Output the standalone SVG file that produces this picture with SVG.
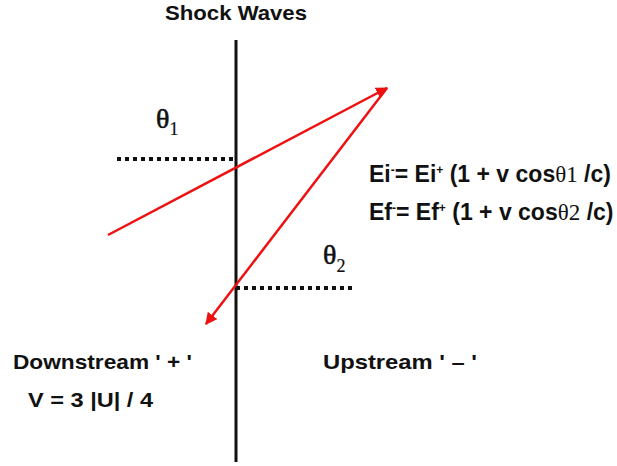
<svg xmlns="http://www.w3.org/2000/svg" width="617" height="466" viewBox="0 0 617 466">
<style>
.t{font-family:"Liberation Sans",Arial,sans-serif;font-weight:bold;font-size:21px;fill:#111}
.eq{font-size:23px}
.th{font-family:"Liberation Serif","Times New Roman",serif;font-size:28px;fill:#111;stroke:#111;stroke-width:0.6}
.sub{font-family:"Liberation Serif","Times New Roman",serif;font-size:18px;stroke-width:0.2}
.ray{stroke:#ee1111;stroke-width:2.5;fill:none}
.dot{stroke:#111;stroke-width:4;stroke-dasharray:4 4;fill:none}
</style>
<defs>
<marker id="ah" markerWidth="12" markerHeight="12" refX="9" refY="5" orient="auto" markerUnits="userSpaceOnUse" viewBox="0 0 10 10">
<path d="M0,0 L10,5 L0,10 Z" fill="#ee1111"/>
</marker>
</defs>
<rect width="617" height="466" fill="#fff"/>
<g id="shock">
<line x1="236" y1="40" x2="236" y2="462" stroke="#111" stroke-width="3"/>
<text class="t" x="165" y="20" textLength="142" lengthAdjust="spacingAndGlyphs">Shock Waves</text>
</g>
<g id="connectors">
<line class="dot" x1="117" y1="159" x2="236" y2="159"/>
<line class="dot" x1="236" y1="288" x2="355" y2="288"/>
<line class="ray" x1="108" y1="235" x2="387" y2="88" marker-end="url(#ah)"/>
<line class="ray" x1="387" y1="88" x2="206" y2="324" marker-end="url(#ah)"/>
</g>
<g id="theta1">
<text class="th" x="156" y="128">θ<tspan class="sub" dy="7">1</tspan></text>
</g>
<g id="theta2">
<text class="th" x="323" y="264">θ<tspan class="sub" dy="8">2</tspan></text>
</g>
<g id="eq1">
<text class="t eq" x="369" y="182">Ei<tspan font-size="12" dy="-8">-</tspan><tspan dy="8">= Ei</tspan><tspan font-size="12" dy="-8">+</tspan><tspan dy="8"> (1 + v cos</tspan><tspan font-family="Liberation Serif,serif" font-weight="normal">θ1</tspan> /c)</text>
</g>
<g id="eq2">
<text class="t eq" x="369" y="220">Ef<tspan font-size="12" dy="-8">-</tspan><tspan dy="8">= Ef</tspan><tspan font-size="12" dy="-8">+</tspan><tspan dy="8"> (1 + v cos</tspan><tspan font-family="Liberation Serif,serif" font-weight="normal">θ2</tspan> /c)</text>
</g>
<g id="downstream">
<text class="t" x="13" y="369" textLength="179" lengthAdjust="spacingAndGlyphs">Downstream ' + '</text>
<text class="t" x="28" y="407" textLength="125" lengthAdjust="spacingAndGlyphs">V = 3 |U| / 4</text>
</g>
<g id="upstream">
<text class="t" x="323" y="369" textLength="154" lengthAdjust="spacingAndGlyphs">Upstream ' – '</text>
</g>
</svg>
